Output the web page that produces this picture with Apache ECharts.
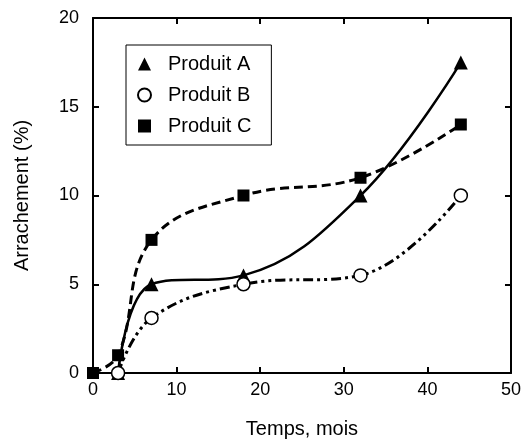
<!DOCTYPE html>
<html style="height: 100%">
<head>
    <meta charset="utf-8">
    <script type="text/javascript" src="https://cdn.jsdelivr.net/npm/echarts@6.0.0/dist/echarts.min.js"></script>
</head>
<body style="height: 100%; margin: 0; background-color: #ffffff;">
    <div id="main" style="width: 524px;height: 444px;"></div>
<script>
// mois
var moisA = [3, 7, 18, 32, 44];
var moisB = [3, 7, 18, 32, 44];
var moisC = [0, 3, 7, 18, 32, 44];
// arrachement (%)
var produitA = [0, 5, 5.5, 10, 17.5];
var produitB = [0, 3.1, 5, 5.5, 10];
var produitC = [0, 1, 7.5, 10, 11, 14];

function pairs(xs, ys) {
    return xs.map(function (x, i) { return [x, ys[i]]; });
}

var chartDom = document.getElementById('main');
var myChart = echarts.init(chartDom);
var font = 'Liberation Sans, Arial, sans-serif';

function axisCommon() {
    return {
        axisLine: { show: true, onZero: false, lineStyle: { color: '#000', width: 2 } },
        axisTick: { show: true, inside: true, length: 6, lineStyle: { color: '#000', width: 2 } },
        splitLine: { show: false }
    };
}

var option = {
    animation: false,
    grid: { left: 93, right: 13, top: 18, bottom: 67 },
    legend: {
        orient: 'vertical',
        left: 126,
        top: 45,
        padding: [9, 20, 9, 11],
        itemGap: 11,
        itemWidth: 13,
        itemHeight: 13,
        borderColor: '#000',
        borderWidth: 1,
        backgroundColor: '#fff',
        textStyle: { fontSize: 20, color: '#000', fontFamily: font, padding: [0, 0, 0, 12] },
        data: [
            { name: 'Produit A', icon: 'triangle' },
            { name: 'Produit B', icon: 'circle' },
            { name: 'Produit C', icon: 'rect' }
        ]
    },
    xAxis: [
        Object.assign({
            type: 'value', min: 0, max: 50, interval: 10,
            name: 'Temps, mois', nameLocation: 'middle', nameGap: 46,
            nameTextStyle: { fontSize: 20, color: '#000', fontFamily: font },
            axisLabel: { fontSize: 18, color: '#000', fontFamily: font, margin: 8 }
        }, axisCommon()),
        Object.assign({
            type: 'value', min: 0, max: 50, interval: 10, position: 'top',
            axisLabel: { show: false }
        }, axisCommon())
    ],
    yAxis: [
        Object.assign({
            type: 'value', min: 0, max: 20, interval: 5,
            name: 'Arrachement (%)', nameLocation: 'middle', nameGap: 61,
            nameTextStyle: { fontSize: 20, color: '#000', fontFamily: font },
            axisLabel: { fontSize: 18, color: '#000', fontFamily: font, margin: 14 }
        }, axisCommon()),
        Object.assign({
            type: 'value', min: 0, max: 20, interval: 5, position: 'right',
            axisLabel: { show: false }
        }, axisCommon())
    ],
    series: [
        {
            name: 'Produit C',
            type: 'line',
            smooth: 0.4,
            data: pairs(moisC, produitC),
            symbol: 'rect',
            symbolSize: 12,
            itemStyle: { color: '#000' },
            lineStyle: { color: '#000', width: 3, type: [9, 5] },
            z: 2
        },
        {
            name: 'Produit B',
            type: 'line',
            smooth: 0.4,
            data: pairs(moisB, produitB),
            symbol: 'circle',
            symbolSize: 13,
            showAllSymbol: true,
            itemStyle: { color: '#fff', borderColor: '#000', borderWidth: 1.5 },
            lineStyle: { color: '#000', width: 3, type: [10, 4, 3, 4, 3, 4] },
            z: 4
        },
        {
            name: 'Produit A',
            type: 'line',
            smooth: 0.4,
            data: pairs(moisA, produitA),
            symbol: 'triangle',
            symbolSize: 14,
            itemStyle: { color: '#000' },
            lineStyle: { color: '#000', width: 2.5 },
            z: 3
        }
    ]
};

myChart.setOption(option);
</script>
</body>
</html>
